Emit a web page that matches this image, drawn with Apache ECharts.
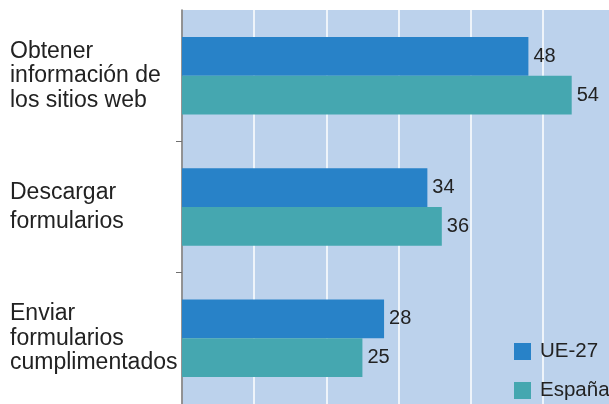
<!DOCTYPE html>
<html><head><meta charset="utf-8">
<script src="https://cdn.jsdelivr.net/npm/echarts@6/dist/echarts.min.js"></script>
<style>html,body{margin:0;padding:0;background:#fff}#c{width:609px;height:404px}</style>
</head><body><div id="c"></div>
<script>
const categories = ["Obtener\ninformación de\nlos sitios web", "Descargar\nformularios", "Enviar\nformularios\ncumplimentados"];
const seriesNames = ["UE-27", "España"];
const ue27 = [48, 34, 28];
const espana = [54, 36, 25];
const xTicks = [0, 10, 20, 30, 40, 50, 60];

const FONT = "Liberation Sans";
const chart = echarts.init(document.getElementById('c'), null, {renderer: 'canvas'});
chart.setOption({
  animation: false,
  backgroundColor: '#ffffff',
  grid: {left: 182, top: 10, width: 433, bottom: 0, containLabel: false, outerBoundsMode: 'none',
         show: true, backgroundColor: '#bcd2ec', borderWidth: 0},
  legend: {
    orient: 'vertical', left: 514, top: 341, height: 100, padding: 0, itemWidth: 17, itemHeight: 17, itemGap: 18,
    icon: 'rect', data: seriesNames,
    textStyle: {fontFamily: FONT, fontSize: 20.5, lineHeight: 17, color: '#222', padding: [0, 0, 0, 4]}
  },
  xAxis: {
    type: 'value', min: xTicks[0], max: xTicks[xTicks.length - 1], interval: 10,
    axisLabel: {show: false}, axisLine: {show: false}, axisTick: {show: false},
    splitLine: {show: true, lineStyle: {color: '#ffffff', width: 1.5}}
  },
  yAxis: {
    type: 'category', data: categories, inverse: true,
    axisLine: {show: true, lineStyle: {color: '#707070', width: 1.5}},
    axisTick: {show: true, length: 6, interval: function (i) { return i > 0; }, lineStyle: {color: '#707070'}},
    axisLabel: {
      align: 'left', margin: 172, fontFamily: FONT, fontSize: 23, color: '#222', lineHeight: 24.5,
      formatter: function (v) { return v.indexOf('Descargar') === 0 ? '{w|' + v.replace('\n', '}\n{w|') + '}' : v; },
      rich: {w: {fontFamily: FONT, fontSize: 23, color: '#222', lineHeight: 29}}
    }
  },
  series: [
    {name: seriesNames[0], type: 'bar', data: ue27, barGap: '0%', barCategoryGap: '41%',
     itemStyle: {color: '#2882c8'},
     label: {show: true, position: 'right', distance: 5, fontFamily: FONT, fontSize: 20, color: '#222'}},
    {name: seriesNames[1], type: 'bar', data: espana, barGap: '0%', barCategoryGap: '41%',
     itemStyle: {color: '#45a7b0'},
     label: {show: true, position: 'right', distance: 5, fontFamily: FONT, fontSize: 20, color: '#222'}}
  ]
});
</script></body></html>
